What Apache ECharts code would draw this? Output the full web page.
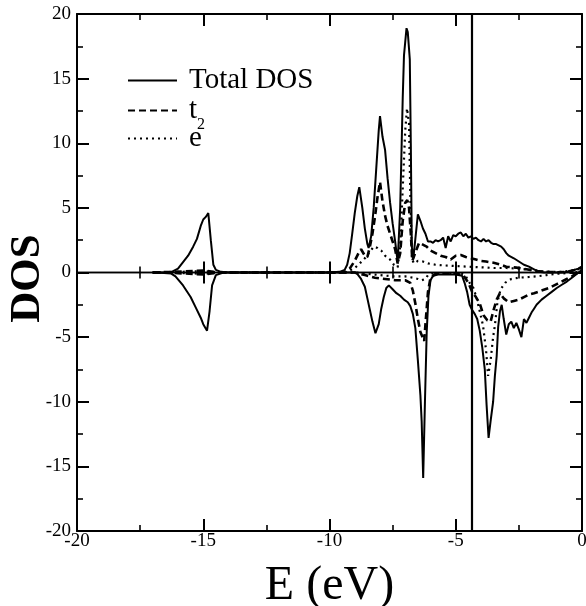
<!DOCTYPE html>
<html><head><meta charset="utf-8">
<script src="https://cdn.jsdelivr.net/npm/echarts@6/dist/echarts.min.js"></script>
<style>html,body{margin:0;padding:0;background:#fff}#c{width:586px;height:606px}</style>
</head><body><div id="c"></div>
<script>
// ---- data ----
const seriesNames = ['Total DOS', 't2', 'e'];
const fermiLevel = -4.38;

const totalUpE = [-17,-16.5,-16.25,-16,-15.8,-15.6,-15.4,-15.25,-15.1,-15,-14.9,-14.8,-14.7,-14.6,-14.5,-14.3,-14,
  -10,-9.6,-9.4,-9.3,-9.2,-9.1,-9,-8.9,-8.82,-8.7,-8.6,-8.5,-8.45,-8.35,-8.25,-8.15,-8.05,-8,-7.9,-7.8,-7.7,-7.6,-7.5,-7.4,-7.3,
  -7.2,-7.1,-7.05,-6.95,-6.9,-6.82,-6.78,-6.74,-6.68,-6.6,-6.5,-6.4,-6.3,-6.2,-6.1,-6,-5.9,-5.8,-5.7,-5.6,-5.5,-5.4,-5.3,-5.2,-5.1,
  -5,-4.9,-4.8,-4.7,-4.6,-4.5,-4.4,-4.3,-4.2,-4.1,-4,-3.9,-3.8,-3.7,-3.6,-3.5,-3.4,-3.3,-3.2,-3.1,-3,-2.9,-2.7,-2.5,-2.3,-2.1,-1.9,-1.7,
  -1.5,-1,-0.7,-0.5,-0.3,-0.15,0];
const totalUpV = [0,0.02,0.05,0.3,0.8,1.3,2.0,2.6,3.6,4.1,4.3,4.6,2.5,0.6,0.2,0.05,0,
  0,0.05,0.2,0.6,1.5,3.0,4.6,5.9,6.6,5.0,3.4,2.2,1.9,2.8,5.0,8.0,11.0,12.1,10.5,9.5,7.3,5.4,3.8,2.4,0.8,
  5.0,13.5,16.8,18.9,18.6,16.5,10,2.0,1.1,2.6,4.5,4.0,3.4,3.0,2.4,2.4,2.3,2.5,2.4,2.5,2.7,1.9,2.8,2.4,2.9,
  2.8,3.0,3.1,2.8,3.0,2.7,2.8,2.6,2.7,2.5,2.4,2.6,2.4,2.5,2.3,2.2,2.2,2.1,2.0,1.8,1.5,1.3,1.1,0.85,0.6,0.45,0.25,0.05,
  0,0,0.02,0.08,0.2,0.3,0.45];

const t2UpE = [-17,-16.2,-15,-14.6,-14.2,-10,-9.4,-9.2,-9,-8.85,-8.75,-8.6,-8.5,-8.4,-8.3,-8.2,-8.1,-8,-7.9,-7.8,-7.7,-7.6,-7.5,-7.4,-7.3,
  -7.2,-7.1,-7,-6.92,-6.85,-6.78,-6.72,-6.65,-6.55,-6.45,-6.35,-6.25,-6.15,-6,-5.8,-5.6,-5.4,-5.2,-5,-4.8,-4.6,-4.4,-4.2,-4,-3.8,-3.5,
  -3.2,-3,-2.6,-2.2,-1.8,-1.4,-1,-0.6,-0.3,0];
const t2UpV = [0,0.05,0.15,0.05,0,0,0,0.3,0.9,1.5,1.8,1.3,1.2,2.0,3.0,4.3,5.8,7.0,5.5,4.4,3.6,3.0,2.4,1.8,0.7,
  1.5,4.0,5.4,5.6,5.0,3.0,0.9,0.9,1.8,2.3,2.2,2.1,2.0,1.7,1.5,1.3,1.2,1.0,1.3,1.35,1.2,1.1,1.0,0.9,0.85,0.75,
  0.6,0.45,0.38,0.25,0.12,0.05,0.02,0.05,0.2,0.4];

const eUpE = [-17,-16,-15,-14.5,-14,-10,-9.4,-9.2,-9,-8.8,-8.6,-8.4,-8.25,-8.1,-7.95,-7.8,-7.6,-7.45,-7.3,-7.2,-7.1,-7,-6.93,-6.85,-6.8,
  -6.73,-6.65,-6.5,-6.3,-6.1,-5.8,-5.5,-5,-4.5,-4,-3.5,-3,-2.5,-2,-1.6,-1.2,-0.8,-0.4,0];
const eUpV = [0,0.05,0.1,0.03,0,0,0,0.15,0.35,0.7,1.1,1.6,2.0,1.9,1.7,1.3,1.0,0.6,0.4,2.0,6.5,11.0,12.7,11.5,6.0,
  1.0,0.7,0.9,0.85,0.7,0.6,0.55,0.5,0.45,0.4,0.35,0.35,0.3,0.2,0.1,0.05,0.05,0.15,0.3];

const totalDnE = [-17,-16.3,-16.1,-15.8,-15.5,-15.3,-15.1,-15,-14.85,-14.75,-14.65,-14.5,-14.2,
  -9,-8.9,-8.75,-8.6,-8.5,-8.4,-8.3,-8.18,-8.05,-7.95,-7.85,-7.75,-7.65,-7.5,-7.35,-7.2,-7.05,-6.9,-6.8,-6.7,-6.6,-6.5,-6.4,-6.35,
  -6.29,-6.22,-6.15,-6.08,-6,-5.9,-5.7,-5,-4.75,-4.65,-4.55,-4.45,-4.35,-4.25,-4.15,-4.05,-3.95,-3.85,-3.78,-3.7,-3.62,-3.52,-3.45,
  -3.38,-3.32,-3.25,-3.18,-3.1,-3,-2.9,-2.8,-2.7,-2.6,-2.5,-2.4,-2.3,-2.2,-2.1,-2,-1.9,-1.8,-1.6,-1.4,-1.2,-1,-0.8,-0.6,-0.4,-0.2,0];
const totalDnV = [0,-0.05,-0.3,-1.0,-1.9,-2.7,-3.5,-4.0,-4.5,-3.0,-1.0,-0.2,0,
  0,-0.1,-0.5,-1.1,-2.0,-2.9,-3.8,-4.7,-4.0,-2.8,-1.9,-1.2,-1.0,-1.3,-1.6,-1.8,-2.1,-2.3,-2.6,-3.2,-4.3,-6.8,-9.5,-11.5,
  -15.9,-10.0,-4.6,-1.8,-0.6,-0.25,-0.15,-0.15,-0.25,-0.8,-1.5,-2.5,-2.9,-3.2,-3.6,-4.5,-5.8,-7.5,-10.2,-12.8,-11.5,-10.0,-8.0,
  -6.5,-4.2,-3.0,-2.5,-3.6,-4.8,-4.0,-3.8,-4.3,-3.9,-4.4,-5.0,-3.6,-3.9,-3.5,-3.1,-2.8,-2.5,-2.1,-1.8,-1.5,-1.2,-0.95,-0.7,-0.4,-0.1,0.2];

const t2DnE = [-17,-16,-15,-14.6,-14.2,-9,-8.6,-8.2,-7.8,-7.4,-7,-6.8,-6.7,-6.6,-6.5,-6.4,-6.25,-6.18,-6.1,-6,-5.8,-5,-4.7,-4.5,-4.35,
  -4.2,-4.05,-3.9,-3.75,-3.62,-3.5,-3.38,-3.25,-3.1,-2.9,-2.7,-2.5,-2.3,-2.1,-1.9,-1.6,-1.3,-1,-0.7,-0.4,-0.2,0];
const t2DnV = [0,-0.05,-0.15,-0.05,0,0,-0.2,-0.4,-0.5,-0.6,-0.6,-0.8,-1.4,-2.4,-3.6,-4.6,-5.3,-3.5,-1.5,-0.4,-0.1,-0.1,-0.2,-0.8,-1.5,
  -1.9,-2.4,-3.3,-3.7,-3.8,-2.9,-2.1,-1.6,-2.0,-2.3,-2.2,-2.1,-1.9,-1.7,-1.6,-1.4,-1.2,-0.9,-0.6,-0.3,-0.05,0.2];

const eDnE = [-17,-16,-15,-14.5,-14,-9,-8.5,-8,-7.5,-7,-6.7,-6.5,-6.35,-6.2,-6.1,-5.9,-4.8,-4.6,-4.45,-4.3,-4.17,-4.05,-3.92,-3.8,-3.72,
  -3.62,-3.52,-3.45,-3.35,-3.22,-3.05,-2.8,-2.5,-2.1,-1.8,-1.4,-1,-0.6,-0.3,0];
const eDnV = [0,-0.03,-0.1,-0.03,0,0,-0.1,-0.2,-0.3,-0.3,-0.4,-0.5,-0.6,-0.5,-0.2,-0.05,-0.05,-0.3,-0.8,-1.2,-2.0,-3.0,-4.1,-6.0,-8.0,
  -6.8,-5.0,-4.1,-2.3,-1.3,-0.8,-0.5,-0.4,-0.35,-0.3,-0.2,-0.1,-0.05,0,0.1];

// ---- chart ----
const zip = (xs, ys) => xs.map((x, i) => [x, ys[i]]);
const FONT = '"Liberation Serif", "DejaVu Serif", serif';

const solid = { color: '#000', width: 2, type: 'solid' };
const dashed = { color: '#000', width: 2.6, type: [7, 4] };
const dotted = { color: '#000', width: 2.2, type: [2, 4] };

function lineSeries(name, data, style, extra) {
  return Object.assign({
    name, type: 'line', data, showSymbol: false, symbol: 'none',
    lineStyle: style, itemStyle: { color: '#000' },
    xAxisIndex: 0, yAxisIndex: 0, silent: true, clip: true
  }, extra || {});
}

const tickCommon = (len) => ({ show: true, inside: true, length: len, lineStyle: { color: '#000', width: 2 } });
const minorCommon = (len) => ({ show: true, splitNumber: 2, length: len, lineStyle: { color: '#000', width: 1.6 } });

const xBase = { type: 'value', min: -20, max: 0, interval: 5, splitLine: { show: false } };
const yBase = { type: 'value', min: -20, max: 20, interval: 5, splitLine: { show: false } };

const legendText = {
  fontFamily: FONT, fontSize: 29, color: '#000', padding: [0, 0, 0, 7],
  rich: {
    t: { fontFamily: FONT, fontSize: 29, color: '#000', lineHeight: 44, verticalAlign: 'middle' },
    s: { fontFamily: FONT, fontSize: 16, color: '#000', lineHeight: 16, verticalAlign: 'bottom' }
  }
};
function legendFor(name, top) {
  return {
    data: [name], orient: 'vertical', left: 127, top: top, padding: 0,
    itemWidth: 49, itemHeight: 14,
    itemStyle: { opacity: 0, color: 'transparent', borderWidth: 0 },
    textStyle: legendText,
    formatter: function (n) { return n === 't2' ? '{t|t}{s|2}' : n; },
    selectedMode: false
  };
}

const option = {
  animation: false,
  backgroundColor: '#fff',
  grid: { left: 77, right: 4, top: 14, bottom: 75, containLabel: false, outerBoundsMode: 'none' },
  legend: [
    legendFor(seriesNames[0], 66),
    legendFor(seriesNames[1], 96),
    legendFor(seriesNames[2], 124)
  ],
  xAxis: [
    Object.assign({}, xBase, {
      position: 'bottom',
      name: 'E (eV)', nameLocation: 'middle', nameGap: 31,
      nameTextStyle: { fontFamily: FONT, fontSize: 48, color: '#000' },
      axisLine: { show: true, onZero: false, lineStyle: { color: '#000', width: 2 } },
      axisTick: tickCommon(12), minorTick: minorCommon(6),
      axisLabel: { show: true, margin: 1, fontFamily: FONT, fontSize: 19, color: '#000' }
    }),
    Object.assign({}, xBase, {
      position: 'top',
      axisLine: { show: true, onZero: false, lineStyle: { color: '#000', width: 2 } },
      axisTick: tickCommon(12), minorTick: minorCommon(6),
      axisLabel: { show: false }
    }),
    Object.assign({}, xBase, {
      position: 'bottom',
      axisLine: { show: true, onZero: true, lineStyle: { color: '#000', width: 1.3 } },
      axisTick: tickCommon(11), minorTick: minorCommon(6),
      axisLabel: { show: false }
    }),
    Object.assign({}, xBase, {
      position: 'top',
      axisLine: { show: true, onZero: true, lineStyle: { color: '#000', width: 1.3 } },
      axisTick: tickCommon(11), minorTick: minorCommon(6),
      axisLabel: { show: false }
    })
  ],
  yAxis: [
    Object.assign({}, yBase, {
      position: 'left',
      name: 'DOS', nameLocation: 'middle', nameGap: 28, nameRotate: 90, nameMoveOverlap: false,
      nameTextStyle: { fontFamily: FONT, fontSize: 43, fontWeight: 'bold', color: '#000', padding: [0, 12, 0, 0] },
      axisLine: { show: true, onZero: false, lineStyle: { color: '#000', width: 2 } },
      axisTick: tickCommon(12), minorTick: minorCommon(6),
      axisLabel: { show: true, margin: 6, fontFamily: FONT, fontSize: 19, color: '#000' }
    }),
    Object.assign({}, yBase, {
      position: 'right',
      axisLine: { show: true, onZero: false, lineStyle: { color: '#000', width: 2 } },
      axisTick: tickCommon(12), minorTick: minorCommon(6),
      axisLabel: { show: false }
    })
  ],
  series: [
    lineSeries('Total DOS', zip(totalUpE, totalUpV), solid, {
      markLine: {
        silent: true, symbol: 'none', animation: false,
        label: { show: false },
        lineStyle: { color: '#000', width: 2.2, type: 'solid' },
        data: [{ xAxis: fermiLevel }]
      }
    }),
    lineSeries('t2', zip(t2UpE, t2UpV), dashed),
    lineSeries('e', zip(eUpE, eUpV), dotted),
    lineSeries('Total DOS', zip(totalDnE, totalDnV), solid),
    lineSeries('t2', zip(t2DnE, t2DnV), dashed),
    lineSeries('e', zip(eDnE, eDnV), dotted)
  ]
};

const chart = echarts.init(document.getElementById('c'), null, { renderer: 'canvas' });
chart.setOption(option);
</script>
</body></html>
